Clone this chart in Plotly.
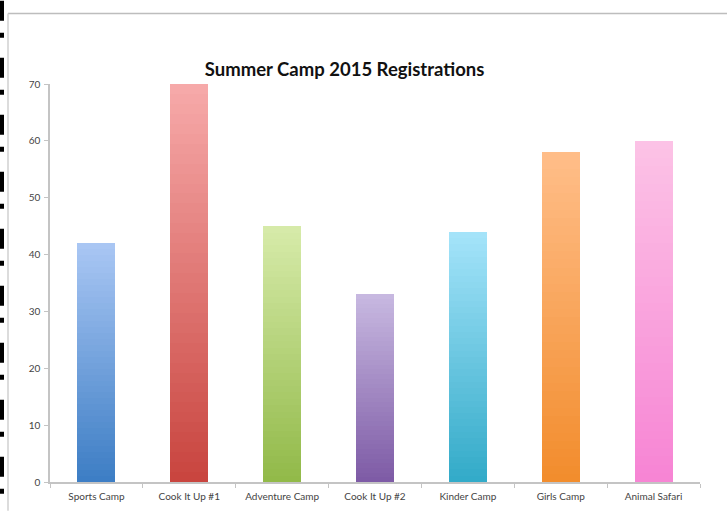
import plotly.graph_objects as go

categories = ["Sports Camp", "Cook It Up #1", "Adventure Camp", "Cook It Up #2",
              "Kinder Camp", "Girls Camp", "Animal Safari"]
registrations = [42, 70, 45, 33, 44, 58, 60]
top_colors = ["#aac7f4", "#f7aaaa", "#d7ebaa", "#c8b9e1", "#a5e4fa", "#ffbe89", "#fcc3e6"]
bottom_colors = ["#3c7dc4", "#c8443e", "#91b948", "#7d5aa5", "#32aac8", "#f28c2c", "#f784d4"]
y_ticks = [0, 10, 20, 30, 40, 50, 60, 70]
title_text = "Summer Camp 2015 Registrations"

N_STEPS = 40


def hex_rgb(h):
    h = h.lstrip("#")
    return tuple(int(h[i:i + 2], 16) for i in (0, 2, 4))


def mix(c1, c2, t):
    a, b = hex_rgb(c1), hex_rgb(c2)
    return "rgb(%d,%d,%d)" % tuple(round(a[i] + (b[i] - a[i]) * t) for i in range(3))


fig = go.Figure()
for k in range(N_STEPS):
    t = (k + 0.5) / N_STEPS
    fig.add_trace(go.Bar(
        x=categories,
        y=[v / N_STEPS for v in registrations],
        marker=dict(color=[mix(b, tp, t) for b, tp in zip(bottom_colors, top_colors)],
                    line=dict(width=0)),
        showlegend=False,
        hoverinfo="skip",
    ))

fig.update_layout(
    width=727, height=514,
    margin=dict(l=50, r=27, t=84, b=29),
    barmode="stack",
    bargap=0.59,
    paper_bgcolor="white",
    plot_bgcolor="white",
    font=dict(family="Lato, 'Open Sans', sans-serif", color="#444"),
    title=dict(text="<b>" + title_text + "</b>", x=0.474, xanchor="center",
               y=1 - 70 / 514, yanchor="middle",
               font=dict(size=18.5, color="#111", family="Lato, 'Open Sans', sans-serif")),
    xaxis=dict(showline=True, linecolor="#c4c4c4", linewidth=1.5,
               ticks="outside", tickson="boundaries", ticklen=4, tickcolor="#c4c4c4",
               ticklabelstandoff=4,
               tickfont=dict(size=10, color="#444"), showgrid=False),
    yaxis=dict(range=[0, 70], tickvals=y_ticks, showline=True, linecolor="#c4c4c4",
               linewidth=1.5, ticks="outside", ticklen=4, tickcolor="#c4c4c4",
               ticklabelstandoff=2,
               tickfont=dict(size=10, color="#444"), showgrid=False, zeroline=False),
)

# screenshot frame decorations
pw, ph = 650, 401
fx = lambda px: (px - 50) / pw
fy = lambda py: (485 - py) / ph
fig.add_shape(type="line", xref="paper", yref="paper", x0=fx(8), x1=fx(727), y0=fy(13), y1=fy(13),
              line=dict(color="#bdbdbd", width=1.5))
fig.add_shape(type="line", xref="paper", yref="paper", x0=fx(8), x1=fx(8), y0=fy(13), y1=fy(514),
              line=dict(color="#d0d0d0", width=1.5))
fig.add_shape(type="line", xref="paper", yref="paper", x0=fx(2), x1=fx(2), y0=fy(0), y1=fy(514),
              line=dict(color="#000", width=4, dash="20px,12px,5px,20px"))

fig.write_html("out.html", config={"displayModeBar": False},
               post_script="document.body.style.margin='0';document.body.style.overflow='hidden';")
